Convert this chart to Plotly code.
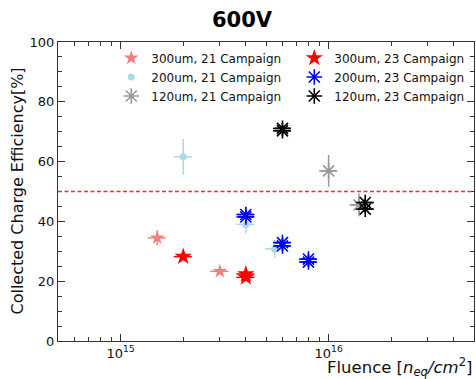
import plotly.graph_objects as go
import numpy as np

# ---- data ----
f300_21 = [1.5e15, 3e15]
cce300_21 = [34.5, 23.3]
ey300_21 = [2.5, 0.8]

f300_23 = [2e15, 4e15, 4e15]
cce300_23 = [28.2, 22.4, 21.3]
ey300_23 = [1.0, 1.2, 1.2]

f200_21 = [2e15, 4e15, 5.5e15]
cce200_21 = [61.6, 39.0, 30.8]
ey200_21 = [6.0, 3.0, 3.0]

f200_23 = [4e15, 4e15, 6e15, 6e15, 8e15, 8e15]
cce200_23 = [42.3, 41.5, 32.9, 31.8, 27.4, 26.4]
ey200_23 = [1.5, 1.5, 1.5, 1.5, 1.5, 1.5]

f120_21 = [1e16, 1.4e16]
cce120_21 = [56.9, 45.5]
ey120_21 = [5.3, 3.8]

f120_23 = [6e15, 6e15, 1.5e16, 1.5e16]
cce120_23 = [71.1, 70.3, 46.3, 44.1]
ey120_23 = [1.2, 1.2, 1.2, 1.2]

xerr_frac = 0.10
threshold = 50
xticks = [1e15, 1e16]
xticklabels = ["10<sup>15</sup>", "10<sup>16</sup>"]
xminor = [m * 10 ** e for e in (14, 15, 16) for m in range(2, 10) if 5e14 < m * 10 ** e < 5e16]

series = [
    ("300um, 21 Campaign", f300_21, cce300_21, ey300_21, "#F08080", "star", 11, None, "legend"),
    ("200um, 21 Campaign", f200_21, cce200_21, ey200_21, "#ADD8E6", "circle", 7, None, "legend"),
    ("120um, 21 Campaign", f120_21, cce120_21, ey120_21, "#999999", "asterisk-open", 13, 1.6, "legend"),
    ("300um, 23 Campaign", f300_23, cce300_23, ey300_23, "#FF0000", "star", 13, None, "legend2"),
    ("200um, 23 Campaign", f200_23, cce200_23, ey200_23, "#0000FF", "asterisk-open", 13, 1.6, "legend2"),
    ("120um, 23 Campaign", f120_23, cce120_23, ey120_23, "#000000", "asterisk-open", 13, 1.6, "legend2"),
]

fig = go.Figure()
for name, fx, fy, ey, col, sym, size, lw, lg in series:
    fx = np.array(fx)
    marker = dict(symbol=sym, size=size, color=col)
    if lw:
        marker["line"] = dict(color=col, width=lw)
    else:
        marker["line"] = dict(width=0)
    fig.add_trace(go.Scatter(
        x=fx, y=fy, mode="markers", name=name, marker=marker, legend=lg,
        error_y=dict(type="data", array=ey, color=col, thickness=1.5, width=0),
        error_x=dict(type="data", array=fx * xerr_frac, arrayminus=fx * xerr_frac,
                     symmetric=False, color=col, thickness=1.5, width=0),
    ))

fig.add_shape(type="line", xref="paper", x0=0, x1=1, yref="y", y0=threshold, y1=threshold,
              line=dict(color="#FF2A2A", width=1.5, dash="4px,2.5px"))

axis_common = dict(showline=True, linecolor="#333333", linewidth=1.2, mirror="ticks",
                   ticks="inside", tickcolor="#333333", showgrid=False, zeroline=False,
                   tickfont=dict(family="DejaVu Sans", size=13, color="#111111"))

fig.update_xaxes(type="log", range=[np.log10(5e14), np.log10(5e16)],
                 tickmode="array", tickvals=xticks, ticktext=xticklabels, ticklen=7,
                 minor=dict(tickmode="array", tickvals=xminor, ticks="inside", ticklen=4,
                            tickcolor="#333333", showgrid=False),
                 **axis_common)
fig.update_yaxes(range=[0, 100], tickmode="array", tickvals=[0, 20, 40, 60, 80, 100], ticklen=7,
                 minor=dict(dtick=5, ticks="inside", ticklen=4, tickcolor="#333333", showgrid=False),
                 **axis_common)

legend_common = dict(orientation="v", xanchor="left", yanchor="top", itemwidth=30,
                     font=dict(size=12, family="DejaVu Sans"), bgcolor="rgba(0,0,0,0)",
                     tracegroupgap=0)

fig.update_layout(
    width=476, height=379,
    margin=dict(l=58, r=2, t=42, b=38),
    paper_bgcolor="white", plot_bgcolor="white",
    font=dict(family="DejaVu Sans", color="#111111"),
    showlegend=True,
    legend=dict(x=0.128, y=0.995, **legend_common),
    legend2=dict(x=0.568, y=0.995, **legend_common),
    annotations=[
        dict(text="<b>600V</b>", xref="paper", yref="paper", x=(242 - 58) / 416, y=1.0,
             yshift=22, showarrow=False, font=dict(size=21, family="DejaVu Sans", color="black"),
             xanchor="center", yanchor="middle"),
        dict(text="Collected Charge Efficiency[%]", xref="paper", yref="paper",
             x=0, y=0.5, xshift=-41, textangle=-90, showarrow=False,
             font=dict(size=16, family="DejaVu Sans"), xanchor="center", yanchor="middle"),
        dict(text="Fluence [<i>n</i><sub><i>eq</i></sub><i>/cm</i><sup>2</sup>]",
             xref="paper", yref="paper", x=1, y=0, yshift=-26, showarrow=False,
             font=dict(size=16.5, family="DejaVu Sans"), xanchor="right", yanchor="middle"),
    ],
)

fig.write_html("out.html")
